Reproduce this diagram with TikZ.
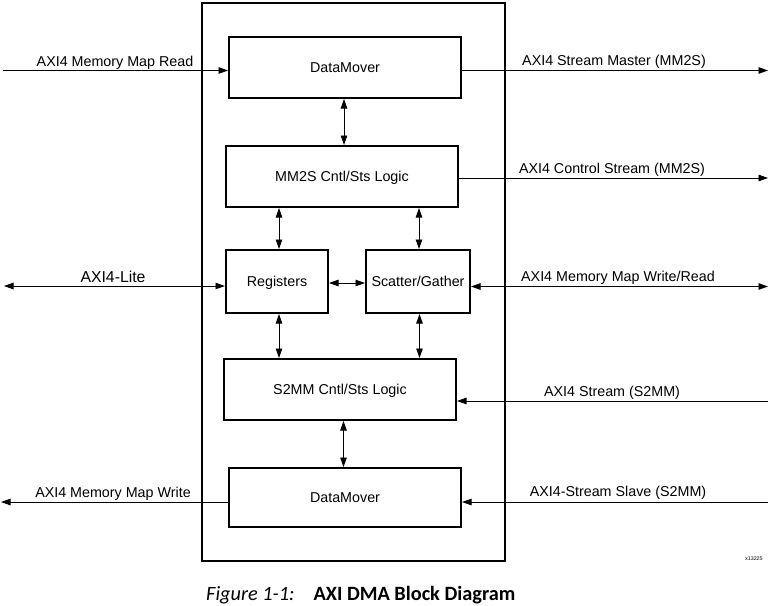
\documentclass[tikz,border=0pt]{standalone}
\usepackage{fontspec}
\setmainfont{Liberation Sans}
\newfontfamily\capfont{Carlito}
\usetikzlibrary{arrows.meta}
\begin{document}
\begin{tikzpicture}[x=1pt,y=-1pt,
  blk/.style={draw,line width=2pt,inner sep=0pt,text height=10.2pt,text depth=0pt,
              font=\fontsize{14.3}{16}\selectfont},
  con/.style={line width=0.9pt},
  onetip/.style={con,-{Triangle[length=9.5pt,width=6.5pt]}},
  twotip/.style={con,{Triangle[length=9.5pt,width=6.5pt]}-{Triangle[length=9.5pt,width=6.5pt]}},
  lbl/.style={anchor=base,inner sep=0pt,font=\fontsize{14.3}{16}\selectfont}
]
\useasboundingbox (0,0) rectangle (770,605);
% outer frame
\draw[line width=2pt] (202,3) rectangle (505,561);
% blocks
\node[blk,minimum width=232pt,minimum height=61pt] (dm1) at (345,67.5) {DataMover};
\node[blk,minimum width=232pt,minimum height=61pt] (mm2s) at (342,176.5) {MM2S Cntl/Sts Logic};
\node[blk,minimum width=102pt,minimum height=63pt] (reg) at (277,281.5) {Registers};
\node[blk,minimum width=104pt,minimum height=63pt] (sg) at (418,281.5) {Scatter/Gather};
\node[blk,minimum width=232pt,minimum height=61pt] (s2mm) at (340,389.5) {S2MM Cntl/Sts Logic};
\node[blk,minimum width=232pt,minimum height=59pt] (dm2) at (345,497.5) {DataMover};
% internal connectors
\draw[twotip] ([xshift=-1pt]dm1.south) -- ([xshift=-1pt]dm1.south |- mm2s.north);
\draw[twotip] ([xshift=2pt]reg.north) -- ([xshift=2pt]reg.north |- mm2s.south);
\draw[twotip] ([xshift=1pt]sg.north) -- ([xshift=1pt]sg.north |- mm2s.south);
\draw[twotip] ([yshift=-1.5pt]reg.east) -- ([yshift=-1.5pt]sg.west);
\draw[twotip] ([xshift=2pt]reg.south) -- ([xshift=2pt]reg.south |- s2mm.north);
\draw[twotip] ([xshift=1.5pt]sg.south) -- ([xshift=1.5pt]sg.south |- s2mm.north);
\draw[twotip] ([xshift=-1.5pt]dm2.north) -- ([xshift=-1.5pt]dm2.north |- s2mm.south);
% external ends
\coordinate (mmr) at (3,70.5);
\coordinate (lite) at (4,286);
\coordinate (mmw) at (1,502);
\coordinate (smm) at (768,70.5);
\coordinate (csm) at (768,178);
\coordinate (mwr) at (768,286.5);
\coordinate (ss) at (768,401);
\coordinate (sss) at (768,502);
% external connectors
\draw[onetip] (mmr) -- (mmr -| dm1.west);
\draw[twotip] (lite) -- (lite -| reg.west);
\draw[onetip] (mmw -| dm2.west) -- (mmw);
\draw[onetip] (smm -| dm1.east) -- (smm);
\draw[onetip] (csm -| mm2s.east) -- (csm);
\draw[twotip] (mwr -| sg.east) -- (mwr);
\draw[onetip] (ss) -- (ss -| s2mm.east);
\draw[onetip] (sss) -- (sss -| dm2.east);
% labels
\node[lbl] (tmmr) at (115,66) {AXI4 Memory Map Read};
\node[lbl,font=\fontsize{15.8}{18}\selectfont] (tlite) at (113,282) {AXI4-Lite};
\node[lbl] (tmmw) at (113,497) {AXI4 Memory Map Write};
\node[lbl] (tsmm) at (614,65.5) {AXI4 Stream Master (MM2S)};
\node[lbl] (tcsm) at (612,173) {AXI4 Control Stream (MM2S)};
\node[lbl] (tmwr) at (618,281.5) {AXI4 Memory Map Write/Read};
\node[lbl] (tss) at (612,396) {AXI4 Stream (S2MM)};
\node[lbl] (tsss) at (618,496.5) {AXI4-Stream Slave (S2MM)};
\node[anchor=base west,inner sep=0pt,font=\fontsize{5.3}{6}\selectfont] (code) at (745,560) {x13225};
\node[anchor=base west,inner sep=0pt,font=\capfont\fontsize{20.3}{23}\selectfont] (cap) at (206,600)
  {\textit{Figure 1-1:}\hspace{19pt}\textbf{AXI DMA Block Diagram}};
\end{tikzpicture}
\end{document}
